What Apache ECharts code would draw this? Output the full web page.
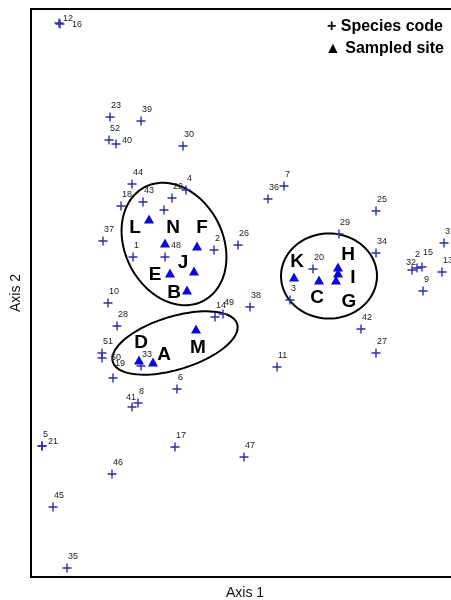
<!DOCTYPE html>
<html>
<head>
<meta charset="utf-8">
<script src="https://cdn.jsdelivr.net/npm/echarts@6/dist/echarts.min.js"></script>
<style>
html, body { margin: 0; padding: 0; background: #fff; }
#chart { width: 451px; height: 600px; }
</style>
</head>
<body>
<div id="chart"></div>
<script>
// species scores (ordination axes, arbitrary units)
var speciesCode = ["12", "16", "23", "39", "52", "40", "30", "44", "18", "43", "22", "4", "", "7", "36", "25",
  "29", "34", "31", "20", "32", "2", "15", "13", "9", "38", "3", "37", "1", "48", "2", "26", "10", "14", "49",
  "28", "51", "50", "19", "33", "6", "8", "41", "11", "42", "27", "47", "5", "21", "17", "46", "45", "35"];
var speciesAxis1 = [0.28, 0.29, 0.79, 1.10, 0.78, 0.85, 1.52, 1.01, 0.90, 1.12, 1.41, 1.55, 1.33, 2.53, 2.37, 3.45,
  3.08, 3.45, 4.13, 2.82, 3.81, 3.86, 3.91, 4.11, 3.92, 2.19, 2.59, 0.72, 1.02, 1.34, 1.83, 2.07, 0.77, 1.84, 1.92,
  0.86, 0.71, 0.71, 0.82, 1.10, 1.46, 1.07, 1.01, 2.46, 3.30, 3.45, 2.13, 0.11, 0.11, 1.44, 0.81, 0.22, 0.36];
var speciesAxis2 = [5.54, 5.53, 4.60, 4.56, 4.37, 4.33, 4.31, 3.93, 3.71, 3.75, 3.79, 3.87, 3.67, 3.91, 3.78, 3.66,
  3.43, 3.24, 3.34, 3.08, 3.07, 3.09, 3.10, 3.05, 2.86, 2.70, 2.77, 3.36, 3.20, 3.20, 3.27, 3.32, 2.74, 2.60, 2.63,
  2.51, 2.24, 2.19, 1.99, 2.11, 1.88, 1.74, 1.70, 2.10, 2.48, 2.24, 1.20, 1.31, 1.31, 1.30, 1.03, 0.70, 0.09];

// site scores
var siteCode = ["L", "N", "F", "J", "E", "B", "K", "C", "H", "G", "I", "D", "A", "M"];
var siteAxis1 = [1.18, 1.34, 1.66, 1.63, 1.39, 1.56, 2.63, 2.88, 3.07, 3.07, 3.05, 1.08, 1.22, 1.65];
var siteAxis2 = [3.58, 3.34, 3.31, 3.06, 3.04, 2.87, 3.00, 2.97, 3.10, 3.04, 2.97, 2.17, 2.15, 2.48];

// site groups drawn as ellipses
var groupCenter1 = [1.43, 1.44, 2.98];
var groupCenter2 = [3.33, 2.34, 3.01];
var groupRadius1 = [0.49, 0.65, 0.48];
var groupRadius2 = [0.64, 0.265, 0.425];
var groupAngle = [27, 17, 0];

// label placement (pixels)
var speciesLabelShift = {
  "12": [4, 0], "16": [12, 5], "40": [6, 1], "41": [-6, -5], "21": [6, 0],
  "50": [9, 4], "19": [2, -10], "48": [6, -7], "32": [-6, -3], "15": [1, -10]
};
var siteLabelShift = {
  L: [-14, 9], N: [8, -15], F: [5, -18], J: [-11, -8], E: [-15, 2], B: [-13, 3],
  K: [3, -15], C: [-2, 18], H: [10, -12], G: [11, 29], I: [17, -2],
  D: [2, -17], A: [11, -7], M: [2, 19]
};

var myChart = echarts.init(document.getElementById("chart"));

var speciesData = [];
for (var i = 0; i < speciesCode.length; i++) {
  var sh = speciesLabelShift[speciesCode[i]] || [1, -7];
  if (speciesCode[i] === "2" && speciesAxis1[i] > 3.5) sh = [-2, -9];
  speciesData.push({
    name: speciesCode[i],
    value: [speciesAxis1[i], speciesAxis2[i]],
    label: { offset: sh }
  });
}
var siteData = [];
for (var j = 0; j < siteCode.length; j++) {
  siteData.push({
    name: siteCode[j],
    value: [siteAxis1[j], siteAxis2[j]],
    label: { offset: siteLabelShift[siteCode[j]] }
  });
}
var groupData = [];
for (var k = 0; k < groupCenter1.length; k++) {
  groupData.push([groupCenter1[k], groupCenter2[k], groupRadius1[k], groupRadius2[k], groupAngle[k]]);
}

var font = "'Liberation Sans', Arial, sans-serif";

myChart.setOption({
  animation: false,
  grid: {
    left: 31, top: 9, width: 428, height: 568,
    outerBoundsMode: "none",
    show: true, borderColor: "#000", borderWidth: 2, backgroundColor: "#fff"
  },
  xAxis: {
    type: "value", min: 0, max: 4.28,
    name: "Axis 1", nameLocation: "middle", nameGap: 9,
    nameTextStyle: { fontSize: 14, color: "#111", fontFamily: font },
    axisLine: { show: false }, axisTick: { show: false },
    axisLabel: { show: false }, splitLine: { show: false }
  },
  yAxis: {
    type: "value", min: 0, max: 5.68,
    name: "Axis 2", nameLocation: "middle", nameGap: 8,
    nameTextStyle: { fontSize: 14, color: "#111", fontFamily: font },
    axisLine: { show: false }, axisTick: { show: false },
    axisLabel: { show: false }, splitLine: { show: false }
  },
  graphic: [
    {
      type: "text", right: 8, top: 19,
      style: { text: "+ Species code", fontSize: 16, fontWeight: "bold", fill: "#000", fontFamily: font }
    },
    {
      type: "text", right: 7, top: 41,
      style: { text: "\u25B2 Sampled site", fontSize: 16, fontWeight: "bold", fill: "#000", fontFamily: font }
    }
  ],
  series: [
    {
      name: "Site group",
      type: "custom",
      data: groupData,
      z: 3,
      renderItem: function (params, api) {
        var cx = api.value(0), cy = api.value(1);
        var rx = api.value(2), ry = api.value(3);
        var a = api.value(4) * Math.PI / 180;
        var pts = [];
        for (var s = 0; s < 96; s++) {
          var t = s / 96 * Math.PI * 2;
          var dx = rx * Math.cos(t), dy = ry * Math.sin(t);
          pts.push(api.coord([cx + dx * Math.cos(a) - dy * Math.sin(a), cy + dx * Math.sin(a) + dy * Math.cos(a)]));
        }
        return {
          type: "polygon",
          shape: { points: pts },
          style: { fill: "none", stroke: "#000", lineWidth: 2 }
        };
      }
    },
    {
      name: "Species code",
      type: "scatter",
      data: speciesData,
      symbol: "path://M3.8,0h1.4v9h-1.4zM0,3.8h9v1.4h-9z",
      symbolSize: 9,
      itemStyle: { color: "#2e2eaa", opacity: 1 },
      z: 4,
      label: {
        show: true, position: "inside", align: "left", verticalAlign: "bottom",
        formatter: "{b}", fontSize: 9, color: "#222", fontFamily: font
      }
    },
    {
      name: "Sampled site",
      type: "scatter",
      data: siteData,
      symbol: "triangle",
      symbolSize: [10, 9],
      itemStyle: { color: "#0a0ad8", opacity: 1 },
      z: 5,
      label: {
        show: true, position: "inside", align: "center", verticalAlign: "middle",
        formatter: "{b}", fontSize: 19, fontWeight: "bold", color: "#000", fontFamily: font
      }
    }
  ]
});
</script>
</body>
</html>
